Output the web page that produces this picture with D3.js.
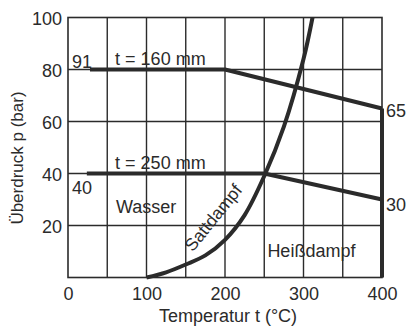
<!DOCTYPE html>
<html>
<head>
<meta charset="utf-8">
<script src="https://cdn.jsdelivr.net/npm/d3@7"></script>
<style>
  body { margin: 0; background: #fff; }
  text { font-family: "Liberation Sans", Arial, sans-serif; fill: #2b2b2b; }
</style>
</head>
<body>
<div id="chart"></div>
<script>
// values
var xTicks = [0, 100, 200, 300, 400];
var yTicks = [20, 40, 60, 80, 100];
var xGrid = [50, 100, 150, 200, 250, 300, 350];
var yGrid = [20, 40, 60, 80];
// wall thickness 160 mm: max. pressure over temperature
var line160 = [[28, 80], [200, 80], [400, 65]];
// wall thickness 250 mm
var line250 = [[24, 40], [250, 40], [400, 30]];
// temperature limit
var limit400 = [[400, 0], [400, 65]];
// saturated steam curve (Sattdampf)
var satT = [100, 125, 150, 175, 200, 225, 250, 275, 300, 311.5];
var satP = [0, 2, 5, 8.5, 14.5, 24, 39, 58, 84, 100];

var W = 413, H = 327;
var m = {left: 68, top: 17.5, right: 31, bottom: 49.5};
var w = W - m.left - m.right, h = H - m.top - m.bottom;
var ink = "#2b2b2b";

var svg = d3.select("#chart").append("svg")
    .attr("width", W)
    .attr("height", H);
var g = svg.append("g")
    .attr("transform", "translate(" + m.left + "," + m.top + ")");

var x = d3.scaleLinear().domain([0, 400]).range([0, w]);
var y = d3.scaleLinear().domain([0, 100]).range([h, 0]);

// grid
g.selectAll(".vg").data(xGrid).enter().append("line")
    .attr("x1", d => x(d)).attr("x2", d => x(d))
    .attr("y1", 0).attr("y2", h)
    .attr("stroke", ink).attr("stroke-width", 1.4);
g.selectAll(".hg").data(yGrid).enter().append("line")
    .attr("x1", 0).attr("x2", w)
    .attr("y1", d => y(d)).attr("y2", d => y(d))
    .attr("stroke", ink).attr("stroke-width", 1.4);
g.append("rect")
    .attr("width", w).attr("height", h)
    .attr("fill", "none").attr("stroke", ink).attr("stroke-width", 1.6);

// axes labels
var xAxis = g.append("g").attr("transform", "translate(0," + h + ")")
    .call(d3.axisBottom(x).tickValues(xTicks).tickSize(0).tickPadding(22));
var yAxis = g.append("g")
    .call(d3.axisLeft(y).tickValues(yTicks).tickSize(0).tickPadding(6));
[xAxis, yAxis].forEach(function(a) {
    a.select(".domain").remove();
    a.selectAll("text").attr("font-size", 18)
        .attr("font-family", "Liberation Sans, Arial, sans-serif")
        .attr("fill", ink);
});
xAxis.selectAll("text").attr("dy", 0);
yAxis.selectAll("text").attr("dy", "0.38em");

// thick curves
var lineGen = d3.line().x(d => x(d[0])).y(d => y(d[1]));
[line160, line250, limit400].forEach(function(d) {
    g.append("path").datum(d)
        .attr("d", lineGen)
        .attr("fill", "none")
        .attr("stroke", ink)
        .attr("stroke-width", 4)
        .attr("stroke-linejoin", "round");
});
var satData = satT.map((t, i) => [t, satP[i]]);
g.append("path").datum(satData)
    .attr("d", d3.line().x(d => x(d[0])).y(d => y(d[1])).curve(d3.curveCatmullRom))
    .attr("fill", "none")
    .attr("stroke", ink)
    .attr("stroke-width", 4);

// texts
function label(tx, px, s, opts) {
    opts = opts || {};
    var t = g.append("text")
        .attr("x", x(tx)).attr("y", y(px))
        .attr("font-size", opts.size || 18)
        .attr("text-anchor", opts.anchor || "start")
        .text(s);
    if (opts.dy) t.attr("dy", opts.dy);
    if (opts.rot) t.attr("transform", "rotate(" + opts.rot + "," + x(tx) + "," + y(px) + ")");
    return t;
}
label(5, 80, "91", {dy: -2});
label(60, 80, "t = 160 mm", {dy: -5});
label(405, 65, "65", {dy: 8});
label(60, 40, "t = 250 mm", {dy: -5});
label(5, 40, "40", {dy: 20});
label(61, 40, "Wasser", {dy: 39});
label(405, 30, "30", {dy: 11});
label(254, 0, "Heißdampf", {dy: -21});
label(159, 9.6, "Sattdampf", {rot: -51, dy: 0, size: 17.5});

// axis titles
svg.append("text")
    .attr("x", 228).attr("y", 322)
    .attr("text-anchor", "middle")
    .attr("font-size", 18)
    .text("Temperatur t (°C)");
svg.append("text")
    .attr("transform", "translate(23,158) rotate(-90)")
    .attr("text-anchor", "middle")
    .attr("font-size", 17)
    .text("Überdruck p (bar)");
</script>
</body>
</html>
